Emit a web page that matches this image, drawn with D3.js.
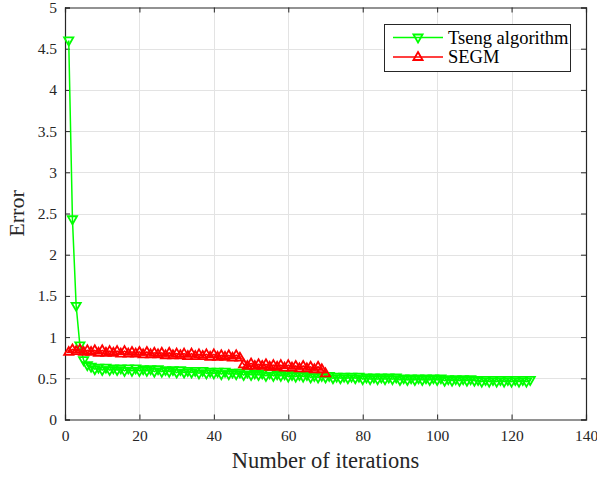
<!DOCTYPE html>
<html><head><meta charset="utf-8">
<script src="https://cdn.jsdelivr.net/npm/d3@7"></script>
<style>body{margin:0;background:#fff}svg{display:block}text{font-family:'Liberation Serif','Times New Roman',serif}</style>
</head><body><svg id="c" width="597" height="477"></svg>
<script>
const xTicks = [0,20,40,60,80,100,120,140];
const yTicks = [0,0.5,1,1.5,2,2.5,3,3.5,4,4.5,5];
const seriesNames = ["Tseng algorithm","SEGM"];
const tsengValues = [4.60,2.43,1.38,0.90,0.72,0.66,0.64,0.61,0.63,0.60,
0.63,0.60,0.62,0.60,0.62,0.59,0.62,0.59,0.62,0.59,
0.61,0.59,0.61,0.58,0.61,0.58,0.60,0.58,0.60,0.57,
0.60,0.57,0.59,0.57,0.59,0.56,0.59,0.56,0.58,0.56,
0.58,0.55,0.58,0.55,0.57,0.55,0.57,0.54,0.57,0.54,
0.56,0.54,0.56,0.53,0.56,0.53,0.55,0.53,0.55,0.52,
0.54,0.52,0.54,0.52,0.54,0.51,0.53,0.51,0.53,0.51,
0.53,0.50,0.52,0.50,0.52,0.50,0.52,0.50,0.52,0.49,
0.51,0.49,0.51,0.49,0.51,0.49,0.51,0.49,0.51,0.48,
0.50,0.48,0.50,0.48,0.50,0.48,0.50,0.48,0.50,0.48,
0.50,0.47,0.49,0.47,0.49,0.47,0.49,0.47,0.49,0.47,
0.48,0.46,0.48,0.46,0.48,0.46,0.48,0.46,0.48,0.46,
0.48,0.46,0.48,0.46,0.48];
const segmValues = [0.82,0.85,0.83,0.85,0.82,0.84,0.82,0.84,0.81,0.84,
0.81,0.83,0.81,0.83,0.80,0.83,0.80,0.82,0.80,0.82,
0.79,0.82,0.79,0.81,0.79,0.81,0.78,0.81,0.78,0.80,
0.78,0.80,0.77,0.80,0.77,0.79,0.77,0.79,0.76,0.79,
0.76,0.78,0.76,0.78,0.75,0.78,0.75,0.67,0.65,0.68,
0.65,0.67,0.65,0.67,0.64,0.66,0.64,0.66,0.63,0.66,
0.63,0.65,0.62,0.65,0.62,0.64,0.61,0.64,0.61,0.56];

const svg = d3.select("#c");
const L=65, R=586, T=7.5, B=419.5;
const x = d3.scaleLinear().domain([0,140]).range([L,R]);
const y = d3.scaleLinear().domain([0,5]).range([B,T]);
const font = "'Liberation Serif','Times New Roman',serif";

// grid
svg.append("g").selectAll("line").data(xTicks.slice(1,-1)).join("line")
  .attr("x1",d=>Math.round(x(d))+0.5).attr("x2",d=>Math.round(x(d))+0.5).attr("y1",T).attr("y2",B)
  .attr("stroke","#e3e3e3").attr("stroke-width",1);
svg.append("g").selectAll("line").data(yTicks.slice(1,-1)).join("line")
  .attr("y1",d=>Math.round(y(d))+0.5).attr("y2",d=>Math.round(y(d))+0.5).attr("x1",L).attr("x2",R)
  .attr("stroke","#e3e3e3").attr("stroke-width",1);

// axes
const fmt = d=>String(d);
const gx = svg.append("g").attr("transform",`translate(0,${B})`)
  .call(d3.axisBottom(x).tickValues(xTicks).tickFormat(fmt).tickSize(-5).tickPadding(10));
const gy = svg.append("g").attr("transform",`translate(${L},0)`)
  .call(d3.axisLeft(y).tickValues(yTicks).tickFormat(fmt).tickSize(-5).tickPadding(8));
const gx2 = svg.append("g").attr("transform",`translate(0,${T})`)
  .call(d3.axisTop(x).tickValues(xTicks).tickFormat("").tickSize(-5));
const gy2 = svg.append("g").attr("transform",`translate(${R},0)`)
  .call(d3.axisRight(y).tickValues(yTicks).tickFormat("").tickSize(-5));
[gx,gy,gx2,gy2].forEach(g=>{
  g.attr("font-family",font).attr("font-size",15.5);
  g.select(".domain").attr("stroke","#262626").attr("stroke-width",1.2);
  g.selectAll(".tick line").attr("stroke","#262626");
  g.selectAll("text").attr("fill","#262626").attr("font-family",font).style("font-family",font).style("font-size","15.5px");
});

// lines
const line = d3.line().x((d,i)=>x(i+1)).y(d=>y(d));
const colors = ["#00ff00","#ff0000"];
const datasets = [tsengValues, segmValues];
const tri = (dir)=> dir>0 ? "M0,-5L4.6,3L-4.6,3Z" : "M0,5L4.6,-3L-4.6,-3Z";

datasets.forEach((vals,k)=>{
  svg.append("path").datum(vals).attr("d",line).attr("fill","none")
    .attr("stroke",colors[k]).attr("stroke-width",1.5);
  svg.append("g").selectAll("path").data(vals).join("path")
    .attr("transform",(d,i)=>`translate(${x(i+1)},${y(d)})`)
    .attr("d",tri(k===0?-1:1)).attr("fill","none").attr("stroke",colors[k]).attr("stroke-width",1.8);
});

// labels
svg.append("text").attr("x",(L+R)/2).attr("y",468).attr("text-anchor","middle")
  .attr("font-family",font).style("font-size","22.5px").attr("fill","#262626").text("Number of iterations");
svg.append("text").attr("transform",`translate(24,${(T+B)/2}) rotate(-90)`).attr("text-anchor","middle")
  .attr("font-family",font).style("font-size","22px").attr("fill","#262626").text("Error");

// legend
const lg = svg.append("g");
lg.append("rect").attr("x",384.5).attr("y",24.5).attr("width",186).attr("height",47)
  .attr("fill","#fff").attr("stroke","#262626").attr("stroke-width",1);
seriesNames.forEach((n,k)=>{
  const yy = 37.5 + k*19.5;
  lg.append("line").attr("x1",393).attr("x2",443).attr("y1",yy).attr("y2",yy)
    .attr("stroke",colors[k]).attr("stroke-width",1.5);
  lg.append("path").attr("transform",`translate(418,${yy})`).attr("d",tri(k===0?-1:1))
    .attr("fill","none").attr("stroke",colors[k]).attr("stroke-width",1.8);
  lg.append("text").attr("x",448).attr("y",yy+6).attr("font-family",font).style("font-size","18.5px")
    .attr("fill","#000").text(n);
});
</script></body></html>
